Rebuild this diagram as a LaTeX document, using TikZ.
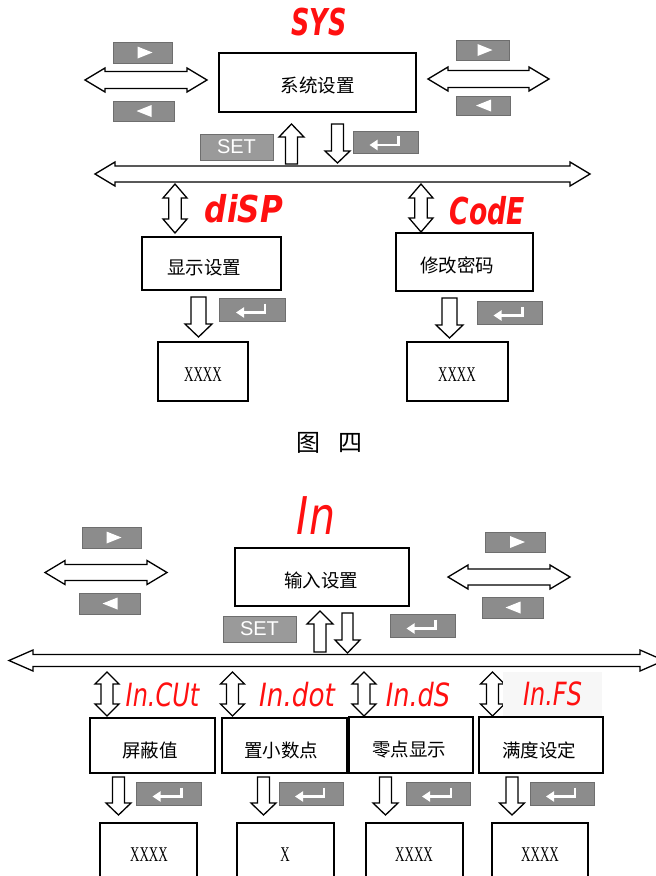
\documentclass[tikz,border=0pt]{standalone}
\usepackage{fontspec}
\usepackage{graphicx}
\newfontfamily\cjk{Noto Sans CJK SC}
\newfontfamily\segfont{DejaVu Sans}
\newfontfamily\keyfont{Liberation Sans}
\newfontfamily\valfont{Liberation Serif}
\usetikzlibrary{arrows.meta}
\definecolor{keygray}{HTML}{8C8C8C}
\definecolor{setgray}{HTML}{9A9A9A}
\definecolor{keyedge}{HTML}{6E6E6E}
\definecolor{segred}{HTML}{FF1010}
\tikzset{
  x=1pt, y=-1pt,
  line join=miter,
}
\tikzstyle{menubox}=[draw, line width=1.4pt, fill=white]
\tikzstyle{blockarrow}=[draw, line width=1.3pt, fill=white]
\tikzstyle{keycap}=[fill=keygray, draw=keyedge, line width=0.6pt]
\tikzstyle{setkey}=[fill=setgray, draw=keyedge, line width=0.6pt, text=white,
  font=\keyfont\fontsize{20}{20}\selectfont]
\tikzstyle{zh}=[font=\cjk\fontsize{18.5}{18.5}\selectfont]
\tikzstyle{valtxt}=[font=\valfont\fontsize{21}{21}\selectfont]
\tikzstyle{seg}=[text=segred, inner sep=0pt]
\tikzstyle{segbold}=[seg, font=\segfont\bfseries\itshape\fontsize{37}{37}\selectfont]
\tikzstyle{segthin}=[seg, font=\segfont\itshape\fontsize{32}{32}\selectfont]

% hollow block arrows: ends, position, half shaft, half head, head length
\newcommand\hdbl[6]{%
  \draw[blockarrow] (#1,#3) -- ({#1+#6},{#3-#5}) -- ({#1+#6},{#3-#4})
    -- ({#2-#6},{#3-#4}) -- ({#2-#6},{#3-#5}) -- (#2,#3)
    -- ({#2-#6},{#3+#5}) -- ({#2-#6},{#3+#4}) -- ({#1+#6},{#3+#4})
    -- ({#1+#6},{#3+#5}) -- cycle;}
\newcommand\vdbl[6]{%
  \draw[blockarrow] (#1,#2) -- ({#1+#5},{#2+#6}) -- ({#1+#4},{#2+#6})
    -- ({#1+#4},{#3-#6}) -- ({#1+#5},{#3-#6}) -- (#1,#3)
    -- ({#1-#5},{#3-#6}) -- ({#1-#4},{#3-#6}) -- ({#1-#4},{#2+#6})
    -- ({#1-#5},{#2+#6}) -- cycle;}
\newcommand\downarr[6]{%
  \draw[blockarrow] ({#1-#4},#2) -- ({#1+#4},#2) -- ({#1+#4},{#3-#6})
    -- ({#1+#5},{#3-#6}) -- (#1,#3) -- ({#1-#5},{#3-#6})
    -- ({#1-#4},{#3-#6}) -- cycle;}
\newcommand\uparr[6]{%
  \draw[blockarrow] ({#1-#4},#3) -- ({#1+#4},#3) -- ({#1+#4},{#2+#6})
    -- ({#1+#5},{#2+#6}) -- (#1,#2) -- ({#1-#5},{#2+#6})
    -- ({#1-#4},{#2+#6}) -- cycle;}

% keys: centre x, centre y, width, height, name
\newcommand\keyR[5]{%
  \node[keycap, minimum width=#3, minimum height=#4] (#5) at (#1,#2) {};
  \fill[white] ({#1-5},{#2-6}) -- ({#1+10},#2) -- ({#1-5},{#2+6}) -- cycle;}
\newcommand\keyL[5]{%
  \node[keycap, minimum width=#3, minimum height=#4] (#5) at (#1,#2) {};
  \fill[white] ({#1+8},{#2-6}) -- ({#1-7},#2) -- ({#1+8},{#2+6}) -- cycle;}
\newcommand\keyE[5]{%
  \node[keycap, minimum width=#3, minimum height=#4] (#5) at (#1,#2) {};
  \draw[white, line width=2.6pt, -{Triangle[length=8pt,width=10pt]}]
    ({#1+13},{#2-6}) -- ({#1+13},{#2+3}) -- ({#1-16},{#2+3});}

\begin{document}
\begin{tikzpicture}
  \useasboundingbox (0,0) rectangle (656,876);
  \clip (0,0) rectangle (656,876);

  % ---- SYS menu
  \node[segbold] (sys) at (319,22.5) {\scalebox{0.69}[1]{SYS}};
  \keyR{142.5}{52.5}{59}{21}{sysR}
  \keyL{143.5}{111}{61}{20}{sysL}
  \hdbl{85}{207}{80}{8.5}{12}{20}
  \node[menubox, minimum width=197, minimum height=59] (sysbox) at (317.5,82.5) {};
  \node[zh] (systxt) at (317.5,85) {系统设置};
  \keyR{482.5}{50}{53}{20}{sysR2}
  \keyL{483}{105.5}{54}{19}{sysL2}
  \hdbl{428}{549}{79}{8.5}{12}{20}
  \node[setkey, minimum width=73, minimum height=26] (sysset) at (236.5,147) {SET};
  \uparr{291.5}{124}{164}{6}{12.5}{13}
  \downarr{337.5}{124}{163}{6}{12.5}{12}
  \keyE{385.5}{142}{65}{22}{sysent}
  \hdbl{95}{590}{174}{8}{12}{20}

  % display
  \vdbl{175}{184}{233}{6.3}{12}{14}
  \node[segbold] (dsp) at (244,209) {\scalebox{0.84}[1]{diSP}};
  \node[menubox, minimum width=139, minimum height=53] (dspbox) at (211.5,263.5) {};
  \node[zh] (dsptxt) at (204,268) {显示设置};
  \downarr{198.5}{297}{337}{7.5}{13.5}{13}
  \keyE{252}{309.5}{66}{23}{dspent}
  \node[menubox, minimum width=90, minimum height=59] (dspval) at (203,371.5) {};
  \node[valtxt] (dspvaltxt) at (203,375) {\scalebox{0.62}[1]{XXXX}};

  % code
  \vdbl{421}{184}{232}{6.3}{12}{14}
  \node[segbold] (code) at (487.5,211) {\scalebox{0.72}[1]{CodE}};
  \node[menubox, minimum width=137, minimum height=58] (codebox) at (464.5,262) {};
  \node[zh] (codetxt) at (457,265) {修改密码};
  \downarr{449.5}{298}{338}{7.5}{13.5}{13}
  \keyE{509.5}{312.5}{65}{23}{codeent}
  \node[menubox, minimum width=101, minimum height=59] (codeval) at (457.5,371.5) {};
  \node[valtxt] (codevaltxt) at (457,375) {\scalebox{0.62}[1]{XXXX}};

  \node[font=\cjk\fontsize{24}{24}\selectfont] (cap) at (329,443) {图\hspace{18pt}四};

  % ---- In menu
  \node[seg, font=\segfont\itshape\fontsize{52}{52}\selectfont] (in) at (316,516) {\scalebox{0.79}[1]{In}};
  \keyR{111.5}{537.5}{59}{21}{inR}
  \keyL{109.5}{603.5}{61}{21}{inL}
  \hdbl{45}{167}{572.5}{8}{12}{20}
  \node[menubox, minimum width=174, minimum height=58] (inbox) at (322,577) {};
  \node[zh] (intxt) at (321,580) {输入设置};
  \keyR{515}{542}{60}{20}{inR2}
  \hdbl{448}{570}{577}{8}{12}{20}
  \keyL{512.5}{607.5}{61}{21}{inL2}
  \node[setkey, minimum width=73, minimum height=26] (inset) at (259.5,629) {SET};
  \uparr{320}{611}{652}{6}{13}{13}
  \downarr{347.5}{613}{653}{5.5}{12.5}{13}
  \keyE{422.5}{625.5}{65}{23}{inent}
  \hdbl{9}{664}{660.5}{6}{10.5}{24}

  \vdbl{107}{672}{716}{6}{12}{12}
  \vdbl{232.5}{672}{716}{6}{12}{12}
  \vdbl{364}{672}{716}{6}{12}{12}
  \vdbl{492.5}{672}{716}{6}{12}{12}
  \node[segthin] (cut) at (162.5,695) {\scalebox{0.75}[1]{In.CUt}};
  \node[segthin] (dot) at (297,695) {\scalebox{0.82}[1]{In.dot}};
  \node[segthin] (ds) at (418,695) {\scalebox{0.8}[1]{In.dS}};
  \node[segthin, fill=gray!6, minimum width=99, minimum height=44] (fs) at (552.5,694) {\scalebox{0.75}[1]{In.FS}};

  \node[menubox, minimum width=125, minimum height=55] (cutbox) at (152.5,745.5) {};
  \node[zh] (cuttxt) at (150,750) {屏蔽值};
  \node[menubox, minimum width=125, minimum height=55] (dotbox) at (284.5,745.5) {};
  \node[zh] (dottxt) at (281,750) {置小数点};
  \node[menubox, minimum width=124, minimum height=56] (dsbox) at (411,745) {};
  \node[zh] (dstxt) at (409,750) {零点显示};
  \node[menubox, minimum width=124, minimum height=56] (fsbox) at (541,745) {};
  \node[zh] (fstxt) at (539,750) {满度设定};

  \downarr{118.5}{777}{815}{6}{12.5}{12}
  \downarr{263.5}{777}{815}{6}{12.5}{12}
  \downarr{385.5}{777}{815}{6}{12.5}{12}
  \downarr{512}{777}{815}{6}{12.5}{12}
  \keyE{168.5}{793.5}{65}{23}{cutent}
  \keyE{311}{793.5}{64}{23}{dotent}
  \keyE{438}{793.5}{64}{23}{dsent}
  \keyE{562}{793.5}{64}{23}{fsent}

  \node[menubox, minimum width=97, minimum height=67] (cutval) at (148.5,856.5) {};
  \node[valtxt] (cutvaltxt) at (149,855) {\scalebox{0.62}[1]{XXXX}};
  \node[menubox, minimum width=97, minimum height=67] (dotval) at (285.5,856.5) {};
  \node[valtxt] (dotvaltxt) at (285,855) {\scalebox{0.62}[1]{X}};
  \node[menubox, minimum width=97, minimum height=67] (dsval) at (414.5,856.5) {};
  \node[valtxt] (dsvaltxt) at (414,855) {\scalebox{0.62}[1]{XXXX}};
  \node[menubox, minimum width=96, minimum height=67] (fsval) at (540,856.5) {};
  \node[valtxt] (fsvaltxt) at (540,855) {\scalebox{0.62}[1]{XXXX}};
\end{tikzpicture}
\end{document}
